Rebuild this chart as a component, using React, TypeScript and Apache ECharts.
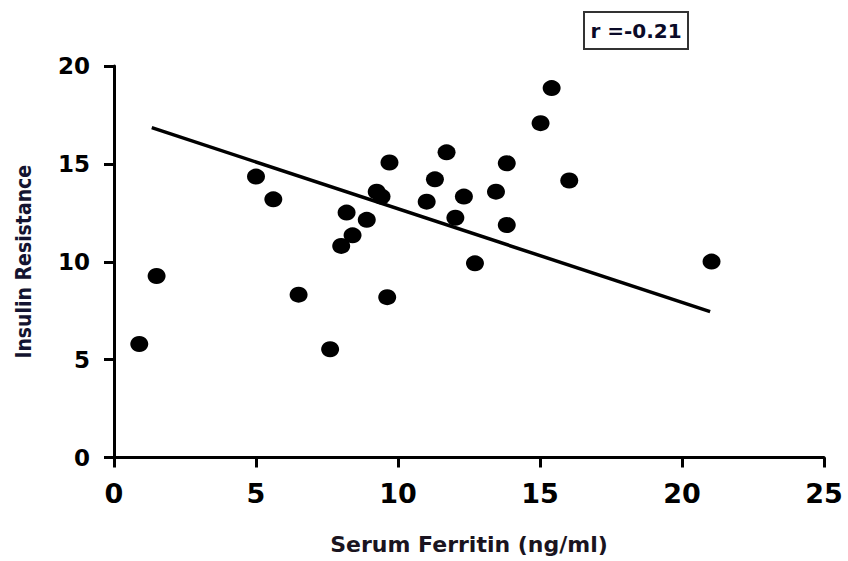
import React, { useEffect, useRef } from "react";
import * as echarts from "echarts";

const ferritin = [0.89, 1.5, 5.0, 5.61, 6.5, 7.61, 8.19, 8.9, 8.4, 8.0, 9.25, 9.42, 9.7, 9.62, 11.3, 11.01, 11.71, 12.32, 12.02, 12.71, 13.83, 13.45, 13.83, 15.02, 15.41, 16.03, 21.04];
const insulin = [5.8, 9.27, 14.35, 13.19, 8.32, 5.53, 12.51, 12.14, 11.35, 10.81, 13.58, 13.33, 15.07, 8.19, 14.21, 13.07, 15.59, 13.33, 12.25, 9.92, 15.03, 13.58, 11.88, 17.08, 18.87, 14.15, 10.01];
const fitLine = [
  [1.33, 16.85],
  [20.99, 7.45],
];
const rLabel = "r =-0.21";

export default function App() {
  const ref = useRef<HTMLDivElement>(null);
  useEffect(() => {
    if (!ref.current) return;
    const chart = echarts.init(ref.current, undefined, { renderer: "svg" });
    const points = ferritin.map((x, i) => [x, insulin[i]]);
    chart.setOption({
      animation: false,
      backgroundColor: "#ffffff",
      grid: { left: 114, right: 24, top: 66, bottom: 103.5 },
      xAxis: {
        type: "value",
        min: 0,
        max: 25,
        interval: 5,
        name: "Serum Ferritin (ng/ml)",
        nameLocation: "middle",
        nameGap: 76,
        nameTextStyle: { fontFamily: "DejaVu Sans", fontWeight: "bold", fontSize: 22, color: "#1a1420" },
        splitLine: { show: false },
        axisLine: { show: true, onZero: false, lineStyle: { color: "#000", width: 3 } },
        axisTick: { show: true, length: 10, lineStyle: { color: "#000", width: 3 } },
        axisLabel: { fontFamily: "DejaVu Sans", fontWeight: "bold", fontSize: 27, color: "#000", margin: 22 },
      },
      yAxis: {
        type: "value",
        min: 0,
        max: 20,
        interval: 5,
        name: "Insulin Resistance",
        nameLocation: "middle",
        nameGap: 80,
        nameTextStyle: { fontFamily: "DejaVu Sans Condensed", fontWeight: "bold", fontSize: 21, color: "#141430" },
        splitLine: { show: false },
        axisLine: { show: true, onZero: false, lineStyle: { color: "#000", width: 3 } },
        axisTick: { show: true, length: 10, lineStyle: { color: "#000", width: 3 } },
        axisLabel: { fontFamily: "DejaVu Sans", fontWeight: "bold", fontSize: 23, color: "#000", margin: 24 },
      },
      graphic: [
        {
          type: "rect",
          shape: { x: 584, y: 12, width: 104, height: 37 },
          style: { fill: "#fff", stroke: "#333", lineWidth: 2 },
        },
        {
          type: "text",
          x: 636,
          y: 30.5,
          style: {
            text: rLabel,
            fontFamily: "DejaVu Sans",
            fontWeight: "bold",
            fontSize: 20,
            fill: "#0a0a28",
            align: "center",
            verticalAlign: "middle",
          },
        },
      ],
      series: [
        {
          type: "line",
          data: fitLine,
          showSymbol: false,
          symbol: "none",
          lineStyle: { color: "#000", width: 3.5 },
          z: 2,
        },
        {
          type: "scatter",
          data: points,
          symbol: "circle",
          symbolSize: [18, 16],
          itemStyle: { color: "#000", opacity: 1 },
          z: 3,
        },
      ],
    });
    return () => chart.dispose();
  }, []);
  return <div ref={ref} style={{ width: 848, height: 561, position: "absolute", left: 0, top: 0 }} />;
}
